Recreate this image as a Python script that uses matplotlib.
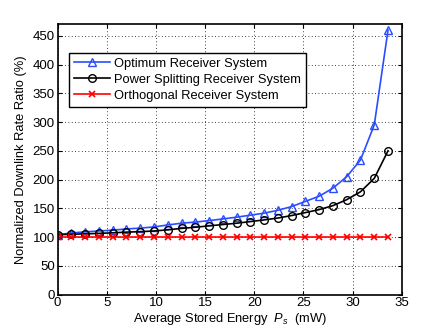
import numpy as np
import matplotlib
matplotlib.use("Agg")
import matplotlib.pyplot as plt

plt.rcParams['font.family'] = ['Liberation Sans', 'DejaVu Sans']
plt.rcParams['mathtext.fontset'] = 'custom'
plt.rcParams['mathtext.rm'] = 'Liberation Sans'
plt.rcParams['mathtext.it'] = 'Liberation Sans:italic'

# Data
energy = [round(0.0 + 1.4 * i, 1) for i in range(25)]
optimum = [104, 107, 109, 110.5, 112, 114, 115.5, 117.5, 121, 124, 126, 128.5,
           131.5, 134.5, 138, 141.5, 146.5, 153, 162, 171, 185, 205, 234, 295, 460]
power_split = [104, 104.8, 105.5, 106.3, 107.3, 108.5, 109.3, 110.5, 112.5, 115,
               117, 119.4, 121.7, 124, 126.8, 129.8, 133, 137.4, 142.5, 147.7,
               154.6, 165, 178.7, 202, 250]
orthogonal = [100] * 25
labels = ["Optimum Receiver System", "Power Splitting Receiver System",
          "Orthogonal Receiver System"]
xticks = [0, 5, 10, 15, 20, 25, 30, 35]
yticks = [0, 50, 100, 150, 200, 250, 300, 350, 400, 450]

fig = plt.figure(figsize=(4.43, 3.33), dpi=100)
ax = fig.add_axes([0.130, 0.1156, 0.777, 0.8114])

ax.plot(energy, optimum, color='#2a4dff', lw=1.2, marker='^', ms=6,
        mfc='none', mec='#2a4dff', mew=1.0, label=labels[0])
ax.plot(energy, power_split, color='black', lw=1.2, marker='o', ms=5.5,
        mfc='none', mec='black', mew=1.0, label=labels[1])
ax.plot(energy, orthogonal, color='#ff0000', lw=1.2, marker='x', ms=4,
        mec='#ff0000', mew=1.2, label=labels[2])

ax.set_xlim(0, 35)
ax.set_ylim(0, 470)
ax.set_xticks(xticks)
ax.set_yticks(yticks)
ax.tick_params(direction='in', top=True, right=True, labelsize=9.5, length=3,
               width=0.8, pad=2)
ax.grid(True, linestyle=(0, (1, 3)), color='black', lw=0.6)
for s in ax.spines.values():
    s.set_linewidth(1.2)

ax.set_xlabel(r'Average Stored Energy  $P_s$  (mW)', fontsize=9.3, labelpad=1)
ax.set_ylabel('Normalized Downlink Rate Ratio (%)', fontsize=9.3, labelpad=4)

leg = ax.legend(loc='upper left', bbox_to_anchor=(0.033, 0.895), fontsize=9.3,
                fancybox=False, edgecolor='black', framealpha=1,
                handlelength=2.8, borderpad=0.4, labelspacing=0.3,
                handletextpad=0.3, borderaxespad=0)
leg.get_frame().set_linewidth(1.0)

fig.savefig('out.png', dpi=100)
